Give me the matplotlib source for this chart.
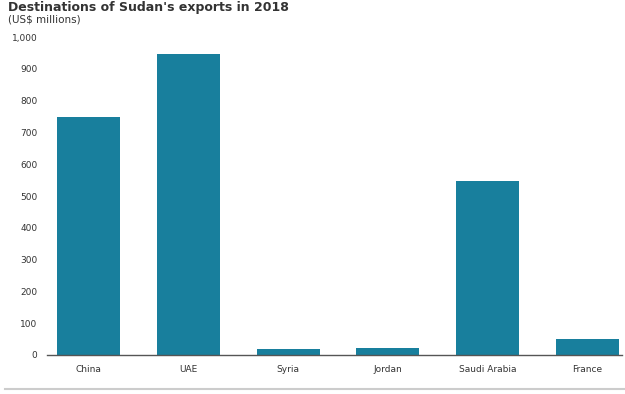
import matplotlib
matplotlib.use("Agg")
import matplotlib.pyplot as plt
from matplotlib.lines import Line2D

categories = ["China", "UAE", "Syria", "Jordan", "Saudi Arabia", "France"]
values = [748, 945, 20, 22, 548, 50]
yticks = [0, 100, 200, 300, 400, 500, 600, 700, 800, 900, 1000]
ytick_labels = ["0", "100", "200", "300", "400", "500", "600", "700", "800", "900", "1,000"]

fig = plt.figure(figsize=(6.25, 3.94), dpi=100)
ax = fig.add_axes([47/625, 1-355/394, (622-47)/625, (355-37)/394])

x = list(range(len(categories)))
ax.bar(x, values, width=0.63, color="#187f9d", zorder=2)
ax.set_xlim(-0.42, 5.35)
ax.set_ylim(0, 1000)
ax.set_yticks(yticks)
ax.set_yticklabels(ytick_labels)
ax.set_xticks(x)
ax.set_xticklabels(categories)
ax.tick_params(axis="both", length=0, labelsize=6.5, labelcolor="#333333")
ax.tick_params(axis="y", pad=7)
ax.tick_params(axis="x", pad=7)
for s in ["top", "right", "left"]:
    ax.spines[s].set_visible(False)
ax.spines["bottom"].set_color("#555555")
ax.spines["bottom"].set_linewidth(1.0)

fig.text(8/625, 1-1/394, "Destinations of Sudan's exports in 2018", fontsize=9,
         fontweight="bold", color="#333333", va="top", ha="left")
fig.text(8/625, 1-19/394, "(US$ millions)", fontsize=7.5, color="#333333",
         va="center", ha="left")
fig.add_artist(Line2D([5/625, 1], [1-389/394, 1-389/394], color="#cccccc",
                      linewidth=1.5, transform=fig.transFigure))

fig.savefig("out.png", dpi=100)
